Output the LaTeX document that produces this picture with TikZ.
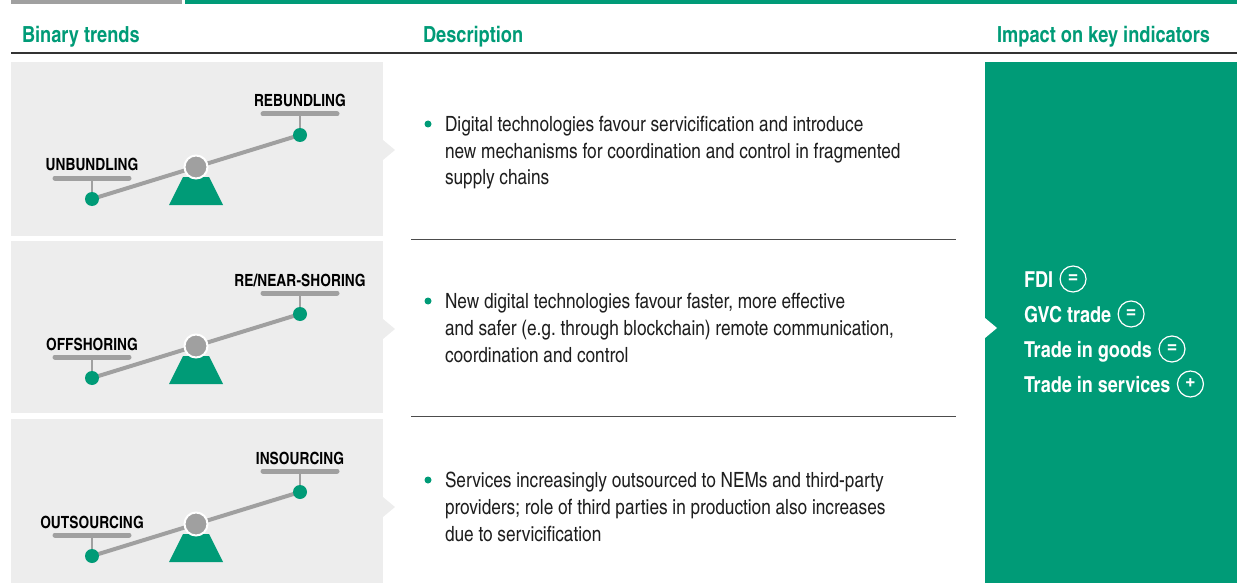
\documentclass[tikz,border=0pt]{standalone}
\usepackage{fontspec}
\setmainfont{texgyreheroscn}[Extension=.otf,UprightFont=*-regular,BoldFont=*-bold,ItalicFont=*-italic,BoldItalicFont=*-bolditalic]
\usetikzlibrary{positioning}

\definecolor{wtogreen}{RGB}{0,155,119}
\definecolor{panelgrey}{RGB}{237,237,237}
\definecolor{beamgrey}{RGB}{160,160,160}
\definecolor{textdark}{RGB}{30,30,30}

\begin{document}
\begin{tikzpicture}[x=1pt,y=-1pt,
    every node/.style={inner sep=0pt, outer sep=0pt},
    head/.style={font=\fontsize{22.2}{26}\selectfont\bfseries, text=wtogreen, anchor=base west},
    trend/.style={font=\fontsize{16.8}{19}\selectfont\bfseries, text=black, anchor=base},
    desc/.style={font=\fontsize{21}{27}\selectfont, text=textdark, align=left, anchor=base west},
    dot/.style={circle, fill=wtogreen, minimum size=14pt},
    pivot/.style={circle, fill=beamgrey, draw=white, line width=2pt, minimum size=23pt},
    beam/.style={draw=beamgrey, line width=4pt},
    bar/.style={draw=beamgrey, line width=5pt, line cap=round},
    stick/.style={draw=beamgrey, line width=2pt},
    sep/.style={draw=black!70, line width=1pt},
    indic/.style={font=\fontsize{22}{26}\selectfont\bfseries, text=white, anchor=base west},
    sign/.style={circle, draw=white, line width=1.2pt, minimum size=26pt,
        font=\fontsize{23}{23}\selectfont\bfseries, text=white},
]
\useasboundingbox (0,0) rectangle (1237,583);

% top bars
\fill[beamgrey] (11,0) rectangle (182,4);
\fill[wtogreen] (185,0) rectangle (1237,4);

% column headers
\node[head] (hbin) at (22,43) {Binary trends};
\node[head] (hdesc) at (423,43) {Description};
\node[head, anchor=base east] (himp) at (1210,43) {Impact on key indicators};
\draw[line width=1.3pt, black!80] (11,53) -- (1237,53);

% grey panels with seesaws
\foreach \dy/\bot/\lo/\hi/\n in {0/236/UNBUNDLING/REBUNDLING/a,
        179/413/OFFSHORING/{RE/NEAR-SHORING}/b,
        357/583/OUTSOURCING/INSOURCING/c}{
    \fill[panelgrey] (11,62+\dy) rectangle (383,\bot);
    \fill[panelgrey] (383,140+\dy) -- (395,150+\dy) -- (383,160+\dy) -- cycle;
    \coordinate (lo\n) at (92,199+\dy);
    \coordinate (hi\n) at (300,135+\dy);
    \coordinate (bl\n) at (92,178+\dy);
    \coordinate (bh\n) at (300,114+\dy);
    \draw[beam] (lo\n) -- (hi\n);
    \draw[stick] (bl\n) -- (lo\n);
    \draw[stick] (bh\n) -- (hi\n);
    \draw[bar] ([xshift=-37]bl\n) -- ([xshift=37]bl\n);
    \draw[bar] ([xshift=-37]bh\n) -- ([xshift=37]bh\n);
    \fill[wtogreen] (183,177+\dy) -- (209,177+\dy) -- (223,205+\dy) -- (169,205+\dy) -- cycle;
    \node[pivot] (pv\n) at (196,167+\dy) {};
    \node[dot] (dl\n) at (lo\n) {};
    \node[dot] (dh\n) at (hi\n) {};
    \node[trend] (tl\n) at (92,171+\dy) {\lo};
    \node[trend] (th\n) at (300,107+\dy) {\hi};
}

% descriptions
\foreach \dy/\txt/\n in {0/{Digital technologies favour servicification and introduce\\
        new mechanisms for coordination and control in fragmented\\supply chains}/a,
        177/{New digital technologies favour faster, more effective\\
        and safer (e.g.\ through blockchain) remote communication,\\coordination and control}/b,
        356/{Services increasingly outsourced to NEMs and third-party\\
        providers; role of third parties in production also increases\\due to servicification}/c}{
    \fill[wtogreen] (428,124+\dy) circle (3.5);
    \node[desc] (d\n) at (445,185+\dy) {\txt};
}
\draw[sep] (411,239) -- (956,239);
\draw[sep] (411,416) -- (956,416);

% impact panel
\fill[wtogreen] (985,62) rectangle (1237,583);
\fill[white] (985,318) -- (997,328) -- (985,338) -- cycle;
\foreach \k/\lab/\sym in {0/FDI/=, 1/GVC trade/=, 2/Trade in goods/=, 3/Trade in services/+}{
    \node[indic] (ind\k) at (1024,287+35*\k) {\lab};
    \node[sign] (sg\k) at ([shift={(20,-8)}]ind\k.base east) {\sym};
}

\end{tikzpicture}
\end{document}
